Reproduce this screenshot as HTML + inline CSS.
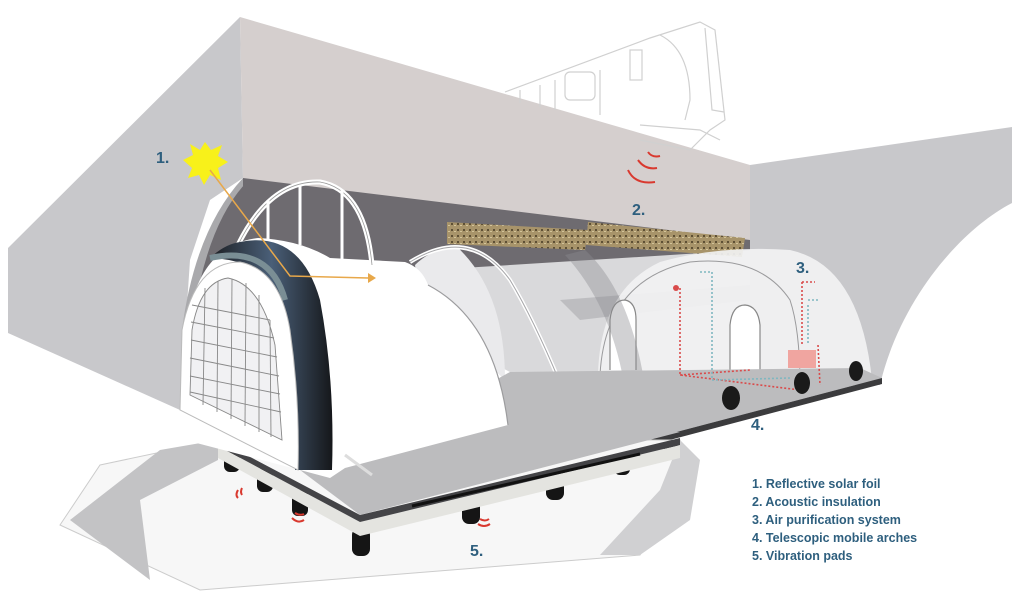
<!DOCTYPE html>
<html><head><meta charset="utf-8"><style>
html,body{margin:0;padding:0;background:#fff;}
svg{display:block;}
text{font-family:"Liberation Sans",sans-serif;font-weight:bold;fill:#2e5f7e;}
</style></head><body>
<svg width="1024" height="600" viewBox="0 0 1024 600" xmlns="http://www.w3.org/2000/svg">
<defs>
<pattern id="ins" width="6" height="6" patternUnits="userSpaceOnUse">
<rect width="6" height="6" fill="#a8946a"/><rect x="1" y="1" width="2" height="2" fill="#5e5035"/><rect x="4" y="3" width="2" height="1" fill="#d3c49a"/>
</pattern>
<linearGradient id="foil" x1="0" y1="0" x2="1" y2="0">
<stop offset="0" stop-color="#1c1e22"/><stop offset="0.5" stop-color="#4a5f78"/><stop offset="1" stop-color="#15171a"/>
</linearGradient>
</defs>
<rect width="1024" height="600" fill="#fff"/>
<polygon points="8,248 240,17 243,178 210,200 190,260 180,410 8,333" fill="#c8c8cb"/>
<path d="M243,178 Q195,230 182,330 L180,410 L188,410 Q190,250 243,186 Z" fill="#a9a9ac"/>
<path d="M750,165 L1012,127 L1012,203 C960,230 900,300 880,385 L750,385 Z" fill="#c8c8cb"/>
<path d="M243,176 L750,238 L750,300 L600,300 L300,300 Q210,320 190,440 L186,420 Q188,250 243,186 Z" fill="#6e6b70"/>
<polygon points="430,270 750,250 750,372 510,372 430,330" fill="#d9d9db"/>
<polygon points="560,300 750,285 750,300 580,320" fill="#bdbdc0"/>
<polygon points="240,17 750,165 750,240 243,178" fill="#d5cfce"/>
<polygon points="447,222 588,230 585,250 447,244" fill="url(#ins)"/>
<polygon points="588,222 745,238 742,257 586,245" fill="url(#ins)"/>
<g fill="none" stroke="#d0d0d0" stroke-width="1.2">
<path d="M505,92 L650,38 L700,22 L715,30 L725,120 L710,130 L690,150 L640,140"/>
<path d="M520,90 L520,103 M540,85 L540,107 M555,80 L555,110 M600,70 L600,115"/>
<rect x="565" y="72" width="30" height="28" rx="5"/>
<rect x="630" y="50" width="12" height="30"/>
<path d="M660,35 Q690,50 690,100 L685,120 M705,28 L712,110 L724,112"/>
<path d="M640,125 L700,130 L720,140"/>
</g>
<path d="M598,375 Q600,290 660,262 Q720,245 790,250 Q860,265 872,380 Z" fill="#f2f2f3" opacity="0.92"/>
<path d="M600,375 Q605,280 690,262 Q760,255 790,300 Q800,330 800,385" fill="none" stroke="#9a9a9c" stroke-width="1"/>
<path d="M610,370 L610,320 Q612,300 625,300 Q636,302 636,320 L636,370" fill="#fff" stroke="#888" stroke-width="1.2"/>
<path d="M730,385 L730,325 Q732,305 745,305 Q758,306 760,325 L760,380" fill="#fff" stroke="#888" stroke-width="1.2"/>
<path d="M505,380 Q505,290 455,245 Q430,250 415,265 L420,300 Z" fill="#eaeaec"/>
<path d="M410,262 Q470,225 510,280 Q540,330 575,420" fill="none" stroke="#fff" stroke-width="4"/>
<path d="M410,262 Q470,225 510,280 Q540,330 575,420" fill="none" stroke="#a5a5a8" stroke-width="1"/>
<path d="M585,250 Q640,300 650,430 L630,440 Q625,320 565,255 Z" fill="#8d8d90" opacity="0.4"/>
<polygon points="300,488 510,372 860,368 882,378 360,515" fill="#bcbcbe"/>
<polygon points="360,515 882,378 882,384 362,521" fill="#3b3b3d"/>
<g fill="none" stroke-width="1.6" stroke-dasharray="2,2">
<path d="M680,288 L680,375 L800,390 M680,375 L750,370" stroke="#d94b4b"/>
<path d="M700,272 L712,272 L712,380 L790,378" stroke="#7fb7c0"/>
<path d="M802,282 L802,345 M802,282 L815,282" stroke="#d94b4b"/>
<path d="M808,305 L808,345 M808,300 L818,300" stroke="#7fb7c0"/>
<path d="M818,345 L820,385" stroke="#d94b4b"/>
</g>
<circle cx="676" cy="288" r="3" fill="#d94b4b"/>
<rect x="788" y="350" width="28" height="18" fill="#f0a5a0"/>
<polygon points="100,465 218,440 680,440 690,470 640,555 200,590 60,525" fill="#f7f7f7" stroke="#ccc"/>
<polygon points="70,520 160,450 218,440 218,460 140,500 150,580" fill="#c3c3c5"/>
<polygon points="680,440 700,460 690,520 640,555 600,555 660,490" fill="#d0d0d2"/>
<g fill="#151515">
<rect x="224" y="450" width="16" height="22" rx="6"/>
<rect x="257" y="468" width="16" height="24" rx="6"/>
<rect x="292" y="490" width="16" height="26" rx="6"/>
<rect x="352" y="528" width="18" height="28" rx="7"/>
<rect x="462" y="500" width="18" height="24" rx="7"/>
<rect x="546" y="478" width="18" height="22" rx="7"/>
<rect x="614" y="455" width="16" height="20" rx="6"/>
<rect x="664" y="442" width="14" height="16" rx="5"/>
</g>
<polygon points="218,446 360,522 680,445 680,458 360,536 218,458" fill="#e4e4e0"/>
<polygon points="218,440 360,515 680,438 680,445 360,522 218,446" fill="#444447"/>
<polygon points="300,470 505,420 680,432 360,515" fill="#bcbcbe"/>
<line x1="412" y1="506" x2="640" y2="454" stroke="#111" stroke-width="3"/>
<path d="M185,440 L188,320 Q200,245 258,238 Q300,240 330,258 L405,262 Q422,268 428,285 Q495,320 508,425 L345,468 L330,478 L300,470 Z" fill="#fff"/>
<path d="M428,285 Q495,320 508,425" fill="none" stroke="#9c9c9e" stroke-width="1.2"/>
<path d="M238,245 Q270,180 320,182 Q365,190 372,265" fill="none" stroke="#fff" stroke-width="5"/>
<path d="M238,245 Q270,180 320,182 Q365,190 372,265" fill="none" stroke="#999" stroke-width="0.8"/>
<g stroke="#fff" stroke-width="3"><line x1="268" y1="200" x2="268" y2="245"/><line x1="300" y1="186" x2="300" y2="245"/><line x1="342" y1="190" x2="342" y2="466"/></g>
<line x1="345" y1="455" x2="372" y2="475" stroke="#ddd" stroke-width="3"/>
<path d="M240,242 Q300,230 320,300 Q335,380 332,470 L295,470 Q300,380 285,310 Q270,260 210,258 Q225,244 240,242 Z" fill="url(#foil)"/>
<path d="M210,258 Q270,245 285,300" fill="none" stroke="#7a8e95" stroke-width="6"/>
<path d="M180,410 L182,330 Q195,262 240,262 Q280,270 290,330 Q300,400 298,470 Z" fill="#fff" stroke="#bbb" stroke-width="1"/>
<g stroke="#888" stroke-width="0.9" fill="none">
<path d="M190,395 L192,330 Q200,282 228,278 Q262,285 275,345 L282,440 Z" fill="#f1f1f3"/>
<line x1="192" y1="305" x2="270" y2="320"/><line x1="191" y1="322" x2="274" y2="338"/><line x1="191" y1="340" x2="277" y2="357"/><line x1="190" y1="358" x2="279" y2="376"/><line x1="190" y1="376" x2="280" y2="394"/><line x1="190" y1="392" x2="281" y2="412"/>
<line x1="205" y1="288" x2="203" y2="405"/><line x1="218" y1="281" x2="217" y2="412"/><line x1="232" y1="279" x2="231" y2="419"/><line x1="246" y1="283" x2="245" y2="426"/><line x1="259" y1="295" x2="259" y2="432"/><line x1="270" y1="320" x2="271" y2="437"/>
</g>
<g fill="#1a1a1a"><ellipse cx="731" cy="398" rx="9" ry="12"/><ellipse cx="802" cy="383" rx="8" ry="11"/><ellipse cx="856" cy="371" rx="7" ry="10"/></g>
<polygon points="205,142 211,150 222,145 218,156 228,162 218,168 221,180 210,175 204,185 199,175 188,178 192,168 183,160 193,155 190,144 200,150" fill="#f8f11a"/>
<polyline points="210,170 290,276 368,278" fill="none" stroke="#e8a84a" stroke-width="1.5"/>
<polygon points="368,273 376,278 368,283" fill="#e8a84a"/>
<g fill="none" stroke="#d9392f" stroke-width="2">
<path d="M628,170 Q635,185 655,182"/><path d="M638,160 Q645,170 657,168"/><path d="M648,152 Q652,158 660,156"/>
<path d="M238,490 Q235,495 238,498"/><path d="M242,488 Q240,492 242,495"/>
<path d="M292,518 Q298,524 304,520"/><path d="M295,513 Q300,516 304,514"/>
<path d="M478,524 Q484,528 490,524"/><path d="M480,519 Q485,522 489,519"/>
</g>
<text x="156" y="163" font-size="16">1.</text>
<text x="632" y="215" font-size="16">2.</text>
<text x="796" y="273" font-size="16">3.</text>
<text x="751" y="430" font-size="16">4.</text>
<text x="470" y="556" font-size="16">5.</text>
<g font-size="12.5">
<text x="752" y="488">1.  Reflective solar foil</text>
<text x="752" y="506">2.  Acoustic insulation</text>
<text x="752" y="524">3.  Air purification system</text>
<text x="752" y="542">4.  Telescopic mobile arches</text>
<text x="752" y="560">5. Vibration pads</text>
</g>
</svg>
</body></html>
